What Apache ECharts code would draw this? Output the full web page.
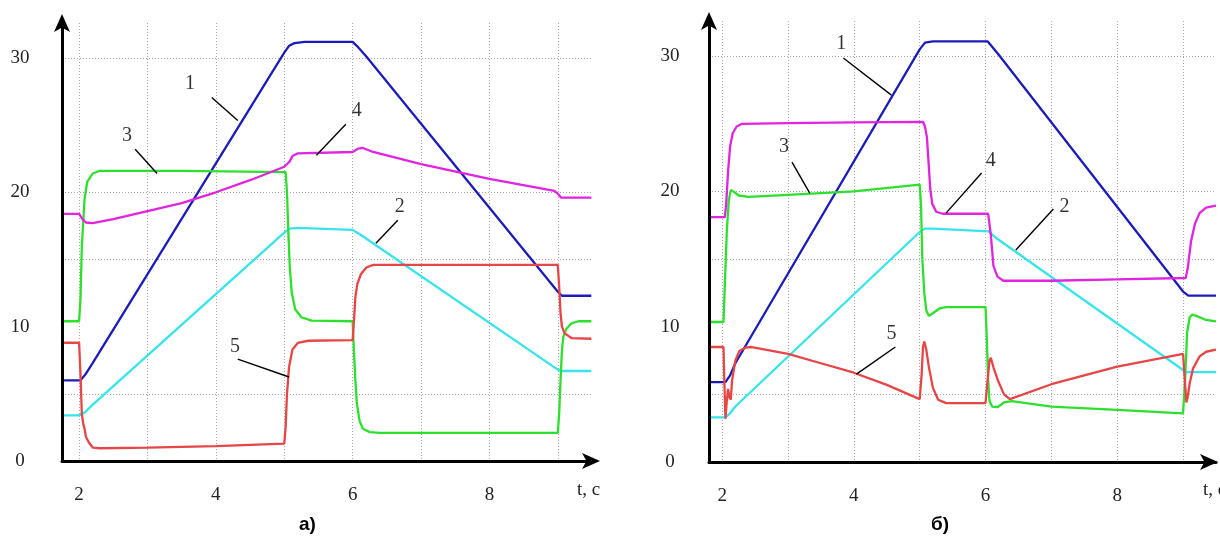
<!DOCTYPE html>
<html><head><meta charset="utf-8">
<script src="https://cdn.jsdelivr.net/npm/echarts@6/dist/echarts.min.js"></script>
<style>html,body{margin:0;padding:0;background:#fff}#c{width:1220px;height:537px}</style>
</head><body><div id="c"></div>
<script>
// ---------- tick labels ----------
const xTickLabels = [2, 4, 6, 8];
const yTickLabels = [0, 10, 20, 30];
const axisName = 't, с';
const captionA = 'а)';
const captionB = 'б)';

// ---------- chart а) ----------
const a1 = [[1.78,6.0],[2.02,6.0],[2.1,6.5],[2.2,7.3],[5.0,30.4],[5.07,30.9],[5.15,31.1],[5.3,31.2],[6.0,31.2],[6.08,30.8],[6.2,30.1],[9.0,12.6],[9.06,12.3],[9.49,12.3]];
const a2 = [[1.78,3.4],[2.0,3.4],[2.08,3.6],[2.2,4.2],[5.0,17.0],[5.08,17.3],[5.2,17.35],[6.0,17.2],[6.1,16.9],[9.0,6.8],[9.05,6.7],[9.49,6.7]];
const a3 = [[1.78,10.4],[2.0,10.4],[2.02,12.0],[2.04,16.0],[2.08,19.5],[2.12,20.8],[2.2,21.4],[2.3,21.6],[3.5,21.6],[5.02,21.5],[5.04,20.0],[5.06,17.0],[5.08,14.5],[5.11,12.5],[5.16,11.3],[5.25,10.7],[5.4,10.45],[6.0,10.4],[6.02,8.0],[6.04,6.0],[6.06,4.4],[6.1,3.0],[6.15,2.4],[6.25,2.15],[6.4,2.1],[9.0,2.1],[9.02,3.5],[9.04,6.0],[9.06,8.2],[9.08,9.2],[9.12,9.8],[9.2,10.25],[9.3,10.4],[9.49,10.4]];
const a4 = [[1.78,18.4],[2.0,18.4],[2.05,18.0],[2.1,17.75],[2.2,17.7],[2.5,18.0],[3.0,18.6],[3.5,19.2],[4.0,20.0],[4.5,20.9],[4.9,21.7],[5.0,21.9],[5.08,22.3],[5.12,22.7],[5.2,22.9],[6.0,23.0],[6.08,23.25],[6.15,23.3],[6.3,23.0],[7.0,22.1],[8.0,21.0],[8.95,20.1],[9.0,19.9],[9.05,19.6],[9.49,19.6]];
const a5 = [[1.78,8.8],[2.0,8.8],[2.02,6.5],[2.04,3.5],[2.06,2.8],[2.08,2.4],[2.1,1.8],[2.14,1.4],[2.2,1.0],[2.3,0.95],[3.0,1.0],[4.0,1.1],[5.0,1.3],[5.02,2.5],[5.04,5.0],[5.07,7.0],[5.12,8.3],[5.2,8.8],[5.35,8.95],[6.0,9.0],[6.02,10.5],[6.04,12.2],[6.07,13.2],[6.12,13.9],[6.2,14.4],[6.3,14.6],[9.0,14.6],[9.02,13.0],[9.04,11.0],[9.06,10.0],[9.1,9.5],[9.2,9.15],[9.49,9.1]];
const aLabels = [[3.62,28.1,'1'],[6.69,18.9,'2'],[2.70,24.2,'3'],[6.06,26.1,'4'],[4.28,8.48,'5']];
const aLeaders = [[[3.94,27.06],[4.32,25.35]],[[6.66,17.92],[6.34,16.2]],[[2.82,23.2],[3.14,21.4]],[[5.90,25.06],[5.47,22.75]],[[4.32,7.58],[5.07,6.25]]];

// ---------- chart б) ----------
const b1 = [[1.83,5.9],[2.05,5.9],[2.12,6.4],[2.2,7.3],[5.0,30.5],[5.08,31.0],[5.2,31.1],[6.03,31.1],[6.1,30.7],[6.2,30.1],[9.0,12.6],[9.08,12.3],[9.5,12.3]];
const b2 = [[1.83,3.3],[2.05,3.3],[2.12,3.6],[2.2,4.1],[5.0,17.0],[5.08,17.25],[5.2,17.25],[6.05,17.05],[6.15,16.6],[9.0,6.8],[9.05,6.65],[9.5,6.65]];
const b3 = [[1.83,10.35],[2.02,10.35],[2.04,13.0],[2.07,17.0],[2.1,19.3],[2.13,20.1],[2.17,20.0],[2.25,19.7],[2.4,19.6],[3.0,19.75],[4.0,20.0],[5.0,20.5],[5.02,19.0],[5.04,15.0],[5.07,12.5],[5.1,11.2],[5.14,10.8],[5.2,11.0],[5.3,11.35],[5.4,11.45],[6.0,11.45],[6.02,9.0],[6.04,6.0],[6.06,4.5],[6.1,4.1],[6.18,4.05],[6.28,4.4],[6.4,4.5],[7.0,4.1],[8.0,3.85],[9.0,3.6],[9.03,6.0],[9.06,9.5],[9.1,10.7],[9.14,10.9],[9.2,10.8],[9.35,10.5],[9.5,10.4]];
const b4 = [[1.83,18.1],[2.04,18.1],[2.06,19.0],[2.09,21.5],[2.12,23.3],[2.16,24.3],[2.22,24.8],[2.3,25.0],[3.0,25.05],[4.0,25.1],[5.05,25.15],[5.08,24.8],[5.11,24.0],[5.13,22.5],[5.16,20.2],[5.19,19.1],[5.25,18.5],[5.35,18.35],[6.04,18.35],[6.08,16.8],[6.12,14.5],[6.18,13.7],[6.27,13.4],[7.0,13.4],[8.0,13.5],[9.04,13.6],[9.07,14.3],[9.12,16.3],[9.18,17.6],[9.25,18.4],[9.35,18.8],[9.5,18.95]];
const b5 = [[1.83,8.5],[2.02,8.5],[2.03,6.5],[2.05,3.2],[2.07,4.5],[2.09,5.4],[2.11,4.8],[2.13,4.6],[2.15,6.0],[2.2,7.5],[2.26,8.2],[2.35,8.45],[2.45,8.5],[3.0,8.0],[3.5,7.3],[4.0,6.6],[4.5,5.7],[5.0,4.65],[5.03,6.5],[5.05,8.5],[5.07,8.9],[5.1,8.3],[5.14,7.0],[5.2,5.5],[5.28,4.6],[5.4,4.35],[6.0,4.35],[6.03,6.0],[6.06,7.5],[6.08,7.7],[6.12,7.0],[6.19,6.0],[6.28,5.0],[6.37,4.65],[7.0,5.75],[8.0,7.05],[9.0,8.0],[9.02,6.5],[9.05,4.4],[9.07,4.8],[9.1,5.8],[9.15,6.9],[9.25,7.8],[9.35,8.15],[9.5,8.3]];
const bLabels = [[3.81,30.9,'1'],[7.20,18.85,'2'],[2.94,23.3,'3'],[6.08,22.25,'4'],[4.57,9.46,'5']];
const bLeaders = [[[3.84,29.86],[4.57,27.12]],[[7.03,18.70],[6.46,15.67]],[[3.06,22.17],[3.33,19.88]],[[5.94,21.36],[5.40,18.40]],[[4.63,8.50],[4.04,6.50]]];

const colors = ['#1c1cb8', '#38e4ec', '#2ee02e', '#e024e0', '#e64646'];
const serif = 'Liberation Serif';
const GRID = '#a8a8a8';
const T = 'rgba(0,0,0,0)';

function xAxis(idx, min, max, interval, cycle, endOffset) {
  return {
    type: 'value', gridIndex: idx, min: min, max: max, interval: interval,
    axisLine: { onZero: false, lineStyle: { color: '#000', width: 3 }, symbol: ['none', 'arrow'], symbolSize: [12, 18], symbolOffset: [0, endOffset] },
    axisTick: { show: false },
    axisLabel: {
      margin: 25, fontFamily: serif, fontSize: 19, color: '#222',
      formatter: function (v) {
        const r = Math.round(v);
        return (Math.abs(v - r) < 1e-6 && xTickLabels.indexOf(r) >= 0) ? String(r) : '';
      }
    },
    splitLine: { show: true, lineStyle: { color: cycle, type: [1, 2], width: 1 } }
  };
}
function yAxis(idx, margin) {
  return {
    type: 'value', gridIndex: idx, min: 0, max: 32.6, interval: 5,
    axisLine: { show: true, onZero: false, lineStyle: { color: '#000', width: 3 }, symbol: ['none', 'arrow'], symbolSize: [12, 18], symbolOffset: [0, 9] },
    axisTick: { show: false },
    axisLabel: {
      margin: margin, align: 'center', fontFamily: serif, fontSize: 19, color: '#222',
      formatter: function (v) { return yTickLabels.indexOf(v) >= 0 ? String(v) : ''; }
    },
    splitLine: { show: true, lineStyle: { color: [T, GRID, T, GRID, GRID, T, GRID, T], type: [1, 2], width: 1 } }
  };
}
function lineSeries(idx, data, color) {
  return { type: 'line', xAxisIndex: idx, yAxisIndex: idx, data: data, showSymbol: false, symbol: 'none',
    lineStyle: { color: color, width: 2.3 }, animation: false, z: 3 };
}
function labelSeries(idx, labels) {
  return { type: 'scatter', xAxisIndex: idx, yAxisIndex: idx, symbolSize: 0,
    data: labels.map(function (l) { return { value: [l[0], l[1]], name: l[2] }; }),
    label: { show: true, position: 'inside', formatter: '{b}', fontFamily: serif, fontSize: 20, color: '#000' },
    animation: false, z: 5, silent: true };
}
function leaderSeries(idx, leaders) {
  return { type: 'lines', coordinateSystem: 'cartesian2d', xAxisIndex: idx, yAxisIndex: idx,
    data: leaders.map(function (c) { return { coords: c }; }),
    lineStyle: { color: '#000', width: 1.4, opacity: 1 }, animation: false, z: 5, silent: true };
}

const series = [];
[a1, a2, a3, a4, a5].forEach(function (d, i) { series.push(lineSeries(0, d, colors[i])); });
[b1, b2, b3, b4, b5].forEach(function (d, i) { series.push(lineSeries(1, d, colors[i])); });
series.push(labelSeries(0, aLabels), leaderSeries(0, aLeaders), labelSeries(1, bLabels), leaderSeries(1, bLeaders));

const chart = echarts.init(document.getElementById('c'), null, { renderer: 'canvas' });
chart.setOption({
  backgroundColor: '#fff',
  animation: false,
  grid: [
    { left: 62, top: 23, width: 530, height: 438 },
    { left: 709, top: 21, width: 507, height: 441 }
  ],
  xAxis: [
    xAxis(0, 1.75, 9.5, 0.25, [T, GRID, T, T], 8),
    xAxis(1, 1.8, 9.5, 0.2, [T, GRID, T, T, T], 2)
  ],
  yAxis: [yAxis(0, 42), yAxis(1, 39)],
  series: series,
  graphic: [
    { type: 'text', left: 577, top: 481, style: { text: axisName, font: '19px "Liberation Serif"', fill: '#222' } },
    { type: 'text', left: 1203, top: 481, style: { text: axisName, font: '19px "Liberation Serif"', fill: '#222' } },
    { type: 'text', left: 299, top: 515, style: { text: captionA, font: 'bold 19px "Liberation Sans"', fill: '#000' } },
    { type: 'text', left: 931, top: 515, style: { text: captionB, font: 'bold 19px "Liberation Sans"', fill: '#000' } }
  ]
});
</script>
</body></html>
